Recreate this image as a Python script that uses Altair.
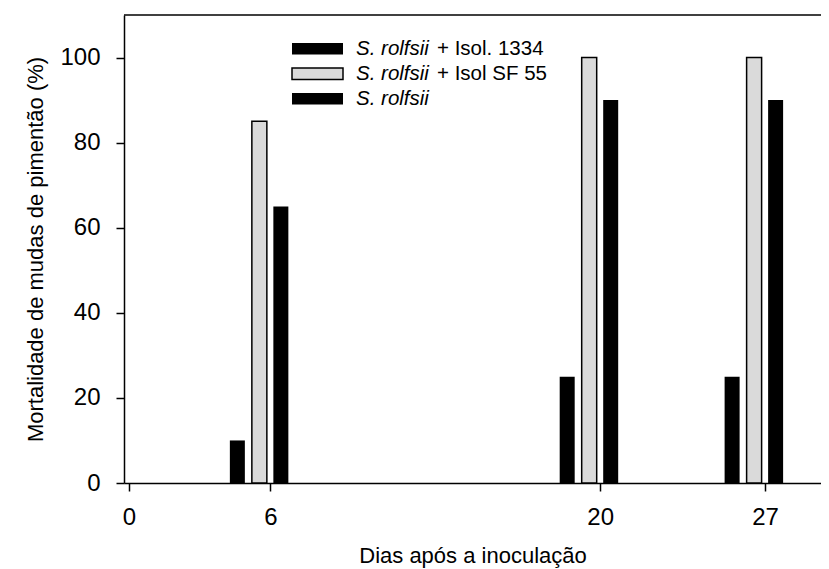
import altair as alt
import pandas as pd

# ---- data ----
dias = [6, 20, 27]
series = ["S. rolfsii + Isol. 1334", "S. rolfsii + Isol SF 55", "S. rolfsii"]
isol_1334 = [10, 25, 25]
isol_sf55 = [85, 100, 100]
rolfsii = [65, 90, 90]
legend_italic = ["S. rolfsii", "S. rolfsii", "S. rolfsii"]
legend_rest = ["+ Isol. 1334", "+ Isol SF 55", ""]
x_ticks = [0, 6, 20, 27]
y_ticks = [0, 20, 40, 60, 80, 100]

rows = []
for s, vals in zip(series, [isol_1334, isol_sf55, rolfsii]):
    for d, v in zip(dias, vals):
        rows.append({"dia": d, "serie": s, "mortalidade": v})
df = pd.DataFrame(rows)

# ---- layout / style ----
W, H = 697, 468
FONT = "Liberation Sans"
PAD = {"left": 116, "top": 7, "right": 0, "bottom": 92}

xscale = alt.Scale(domain=[0, 29.16], nice=False, zero=False)
yscale = alt.Scale(domain=[0, 110], nice=False)

xaxis = alt.Axis(values=x_ticks, title="Dias após a inoculação", grid=False,
                 labelFontSize=24, titleFontSize=22, labelFont=FONT, titleFont=FONT,
                 titleFontWeight="normal", tickSize=8, labelPadding=14, titlePadding=16,
                 domainColor="black", tickColor="black", labelColor="black",
                 titleColor="black", labelFlush=False, labelOverlap=False,
                 domainWidth=1.5, tickWidth=1.5)
yaxis = alt.Axis(values=y_ticks, title="Mortalidade de mudas de pimentão (%)", grid=False,
                 labelFontSize=24, titleFontSize=22, labelFont=FONT, titleFont=FONT,
                 titleFontWeight="normal", tickSize=8, labelPadding=16, titlePadding=12,
                 domainColor="black", tickColor="black", labelColor="black",
                 titleColor="black", labelFlush=False, labelOverlap=False,
                 domainWidth=1.5, tickWidth=1.5)

styles = [
    dict(fill="#000000", xOffset=-33),
    dict(fill="#dadada", stroke="#000000", strokeWidth=1.5, xOffset=-11),
    dict(fill="#000000", xOffset=10.5),
]

base = alt.Chart(df)
layers = []
for s, st in zip(series, styles):
    layers.append(
        base.transform_filter(alt.datum.serie == s).mark_bar(size=15, **st).encode(
            x=alt.X("dia:Q", scale=xscale, axis=xaxis),
            y=alt.Y("mortalidade:Q", scale=yscale, axis=yaxis),
        )
    )

one = pd.DataFrame({"k": [0]})
# top frame line
layers.append(alt.Chart(one).mark_rule(color="black", strokeWidth=1.5).encode(
    x=alt.value(0), x2=alt.value(W), y=alt.value(0)))

# legend
row_top = [28, 53, 78]
for i in range(3):
    rect_style = dict(fill="black") if i != 1 else dict(fill="#dadada", stroke="black", strokeWidth=1.5)
    layers.append(alt.Chart(one).mark_rect(**rect_style).encode(
        x=alt.value(168), x2=alt.value(219),
        y=alt.value(row_top[i]), y2=alt.value(row_top[i] + 11.5)))
    layers.append(alt.Chart(pd.DataFrame({"t": [legend_italic[i]]})).mark_text(
        font=FONT, fontSize=20.5, fontStyle="italic", align="left", baseline="alphabetic",
        color="black").encode(text="t:N", x=alt.value(232), y=alt.value(row_top[i] + 12)))
    if legend_rest[i]:
        layers.append(alt.Chart(pd.DataFrame({"t": [legend_rest[i]]})).mark_text(
            font=FONT, fontSize=20.5, align="left", baseline="alphabetic",
            color="black").encode(text="t:N", x=alt.value(313), y=alt.value(row_top[i] + 12)))

chart = alt.layer(*layers).properties(
    width=W, height=H, padding=PAD, autosize=alt.AutoSizeParams(type="none"),
    background="white"
).configure_view(stroke=None)

chart.save("out.html", embed_options={"renderer": "svg", "actions": False})
